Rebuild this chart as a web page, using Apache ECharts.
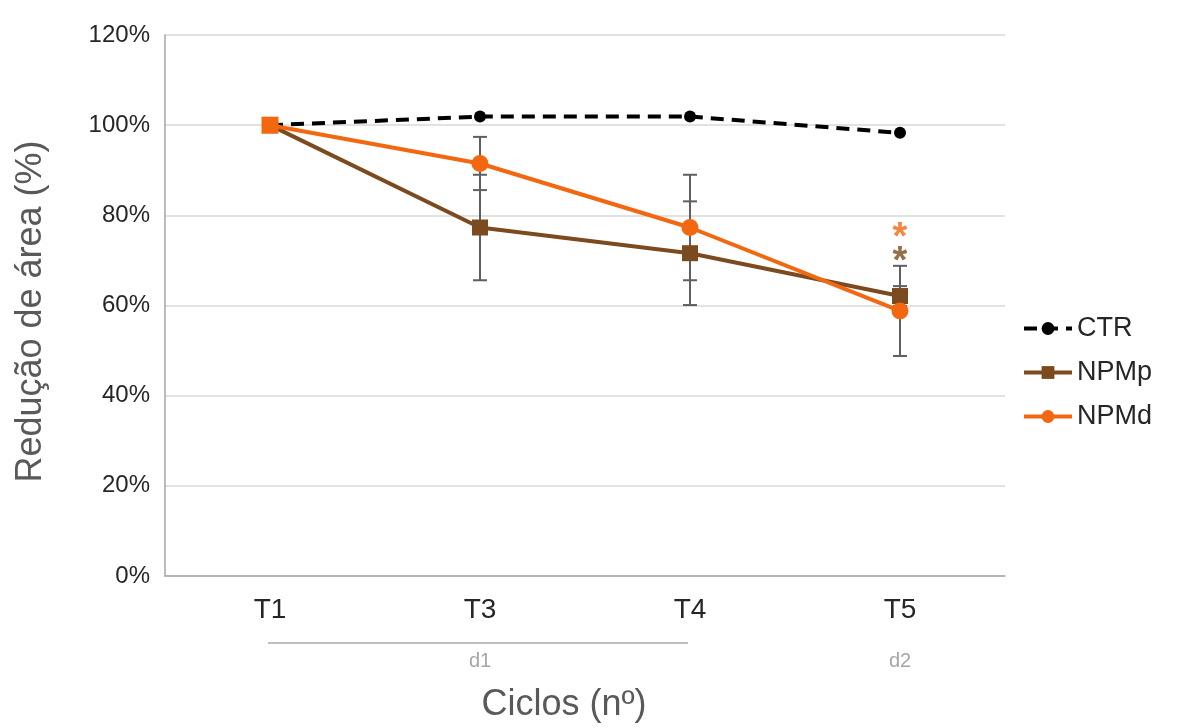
<!DOCTYPE html>
<html><head><meta charset="utf-8">
<script src="https://cdn.jsdelivr.net/npm/echarts@6/dist/echarts.min.js"></script>
<style>html,body{margin:0;padding:0;background:#fff}#c{width:1184px;height:728px}</style>
</head><body><div id="c"></div>
<script>
const categories = ['T1', 'T3', 'T4', 'T5'];
const ctrValues = [100, 101.9, 101.9, 98.3];
const npmpValues = [100, 77.3, 71.6, 62.1];
const npmdValues = [100, 91.5, 77.3, 58.8];
const npmpErrors = [0, 11.7, 11.5, 2.2];
const npmdErrors = [0, 5.9, 11.7, 10.0];
const starNpmd = [null, null, null, 76.9];
const starNpmp = [null, null, null, 71.6];
const groupLabels = [{ text: 'd1', at: 'T3', from: 'T1', to: 'T4' }, { text: 'd2', at: 'T5' }];

const FONT = "'Liberation Sans', Arial, sans-serif";
const C_NPMP = '#7b4a1e';
const C_NPMD = '#f2670f';

function errData(vals, errs) {
  return vals.map((v, i) => [i, v, errs[i]]);
}
function errSeries(name, vals, errs) {
  return {
    name: name, type: 'custom', z: 1, silent: true,
    data: errData(vals, errs),
    renderItem: function (params, api) {
      const i = api.value(0), v = api.value(1), e = api.value(2);
      if (!e) return null;
      const top = api.coord([i, v + e]);
      const bot = api.coord([i, v - e]);
      const w = 7;
      const st = { stroke: '#5f5f5f', lineWidth: 2 };
      return { type: 'group', children: [
        { type: 'line', shape: { x1: top[0], y1: top[1], x2: bot[0], y2: bot[1] }, style: st },
        { type: 'line', shape: { x1: top[0] - w, y1: top[1], x2: top[0] + w, y2: top[1] }, style: st },
        { type: 'line', shape: { x1: bot[0] - w, y1: bot[1], x2: bot[0] + w, y2: bot[1] }, style: st }
      ]};
    }
  };
}
function starSeries(name, vals, color) {
  return {
    name: name, type: 'scatter', z: 6, silent: true,
    symbolSize: 1, itemStyle: { color: 'rgba(0,0,0,0)' },
    data: vals,
    label: { show: true, formatter: '*', position: 'inside', offset: [0, 9],
      fontSize: 38, fontWeight: 'bold', color: color, fontFamily: FONT }
  };
}

const chart = echarts.init(document.getElementById('c'));
chart.setOption({
  animation: false,
  backgroundColor: '#ffffff',
  grid: { left: 165, right: 179, top: 35, bottom: 150 },
  xAxis: {
    type: 'category', data: categories, boundaryGap: true,
    axisLine: { lineStyle: { color: '#a6a6a6', width: 1.5 } },
    axisTick: { show: false },
    axisLabel: { margin: 20, fontSize: 28, color: '#262626', fontFamily: FONT },
    name: 'Ciclos (nº)', nameLocation: 'middle', nameGap: 111,
    nameTextStyle: { fontSize: 36, color: '#595959', fontFamily: FONT, padding: [0, 42, 0, 0] }
  },
  yAxis: {
    type: 'value', min: 0, max: 120, interval: 20,
    axisLine: { show: true, lineStyle: { color: '#a6a6a6', width: 1.5 } },
    axisTick: { show: false },
    splitLine: { lineStyle: { color: '#d9d9d9', width: 1.5 } },
    axisLabel: { formatter: '{value}%', margin: 15, fontSize: 24, color: '#262626', fontFamily: FONT },
    name: 'Redução de área (%)', nameLocation: 'middle', nameGap: 116, nameRotate: 90,
    nameTextStyle: { fontSize: 36, color: '#595959', fontFamily: FONT, padding: [0, 12, 0, 0] }
  },
  legend: {
    data: ['CTR', 'NPMp', 'NPMd'], orient: 'vertical', left: 1017, top: 310,
    itemWidth: 48, itemHeight: 16, itemGap: 17,
    lineStyle: { width: 4 },
    textStyle: { fontSize: 27, color: '#262626', fontFamily: FONT }
  },
  series: [
    errSeries('errNPMp', npmpValues, npmpErrors),
    errSeries('errNPMd', npmdValues, npmdErrors),
    {
      name: 'CTR', type: 'line', z: 3, data: ctrValues,
      symbol: 'circle', symbolSize: 12,
      lineStyle: { color: '#000', width: 4, type: [13, 8] },
      itemStyle: { color: '#000' }
    },
    {
      name: 'NPMp', type: 'line', z: 4, data: npmpValues,
      symbol: 'rect', symbolSize: 16,
      lineStyle: { color: C_NPMP, width: 4 },
      itemStyle: { color: C_NPMP }
    },
    {
      name: 'NPMd', type: 'line', z: 5,
      data: npmdValues.map((v, i) => i === 0 ? { value: v, symbol: 'rect' } : v),
      symbol: 'circle', symbolSize: 17,
      lineStyle: { color: C_NPMD, width: 4 },
      itemStyle: { color: C_NPMD }
    },
    starSeries('starNPMd', starNpmd, C_NPMD),
    starSeries('starNPMp', starNpmp, C_NPMP)
  ]
});

function drawGroups() {
  const y0 = chart.convertToPixel({ yAxisIndex: 0 }, 0);
  const els = [];
  groupLabels.forEach(g => {
    const cx = chart.convertToPixel({ xAxisIndex: 0 }, g.at);
    els.push({ type: 'text', x: cx, y: y0 + 85, style: { text: g.text, fill: '#a6a6a6', fontSize: 20,
      fontFamily: FONT, align: 'center', verticalAlign: 'middle' } });
    if (g.from) {
      const x1 = chart.convertToPixel({ xAxisIndex: 0 }, g.from) - 2;
      const x2 = chart.convertToPixel({ xAxisIndex: 0 }, g.to) - 2;
      els.push({ type: 'line', shape: { x1: x1, y1: y0 + 67, x2: x2, y2: y0 + 67 },
        style: { stroke: '#bfbfbf', lineWidth: 2 } });
    }
  });
  chart.setOption({ graphic: els });
}
drawGroups();
</script></body></html>
